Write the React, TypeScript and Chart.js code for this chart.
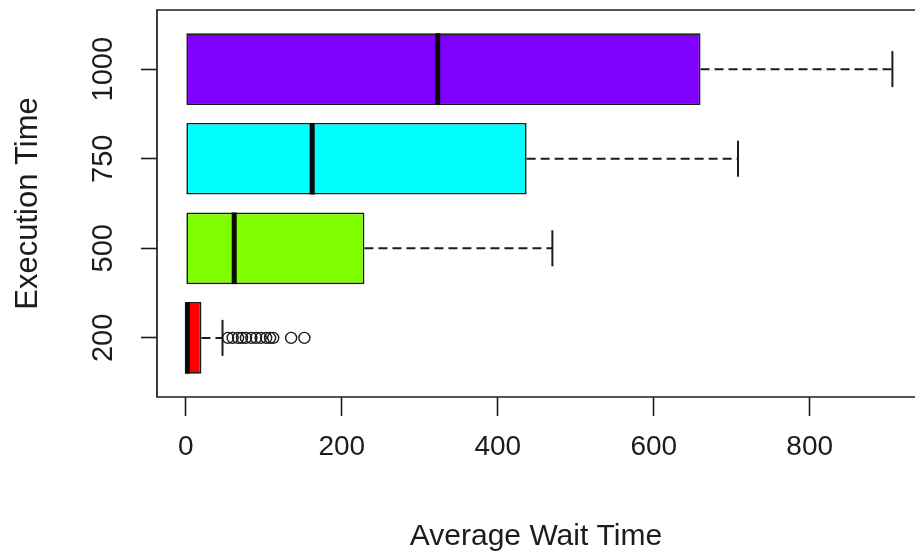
import { useEffect, useRef } from 'react';
import { Chart, registerables } from 'chart.js';

Chart.register(...registerables);

// ---- data ----
const categories = ['200', '500', '750', '1000'];
const positions = [1, 2, 3, 4];
const q1 = [0, 0, 0, 0];
const medians = [2, 62, 162, 323];
const q3 = [20, 229, 437, 660];
const whiskerHigh = [47, 470, 708, 906];
const boxColors = ['#FF0000', '#80FF00', '#00FFFF', '#8000FF'];
const outliers200 = [54, 60, 67, 72, 77, 84, 90, 96, 103, 108, 112, 135, 152];
const xTicks = [0, 200, 400, 600, 800];
const xMin = -37;
const xMax = 935;
const yMin = 0.34;
const yMax = 4.66;

const FONT = '"Liberation Sans", Arial, Helvetica, sans-serif';
const INK = '#1c1c1c';

const framePlugin = {
  id: 'rframe',
  afterDraw(chart: any) {
    const { ctx, chartArea } = chart;
    ctx.save();
    ctx.strokeStyle = INK;
    ctx.lineWidth = 1.7;
    ctx.beginPath();
    ctx.moveTo(chartArea.right + 3, chartArea.top);
    ctx.lineTo(chartArea.left, chartArea.top);
    ctx.lineTo(chartArea.left, chartArea.bottom);
    ctx.lineTo(chartArea.right + 3, chartArea.bottom);
    ctx.stroke();
    ctx.restore();
  },
};

export default function App() {
  const ref = useRef<HTMLCanvasElement | null>(null);

  useEffect(() => {
    if (!ref.current) return;

    const whiskerSets = positions.map((p, i) => ({
      type: 'scatter' as const,
      data: [
        { x: q3[i], y: p },
        { x: whiskerHigh[i], y: p },
      ],
      showLine: true,
      borderColor: INK,
      borderWidth: 2,
      borderDash: [9, 5],
      pointRadius: 0,
      order: 2,
    }));

    const chart = new Chart(ref.current, {
      type: 'bar',
      data: {
        datasets: [
          {
            type: 'bar',
            indexAxis: 'y',
            data: positions.map((p, i) => ({ y: p, x: [q1[i], q3[i]] })) as any,
            backgroundColor: boxColors,
            borderColor: INK,
            borderWidth: 1.7,
            borderSkipped: false,
            barPercentage: 0.8,
            categoryPercentage: 1,
            order: 3,
          } as any,
          ...whiskerSets,
          {
            type: 'scatter',
            data: positions.map((p, i) => ({ x: whiskerHigh[i], y: p })),
            pointStyle: 'line',
            pointRotation: 90,
            pointRadius: 18,
            pointBorderWidth: 2,
            pointBorderColor: INK,
            order: 1,
          } as any,
          {
            type: 'scatter',
            data: positions.map((p, i) => ({ x: medians[i], y: p })),
            pointStyle: 'line',
            pointRotation: 90,
            pointRadius: 35.8,
            pointBorderWidth: 5,
            pointBorderColor: '#0a0a0a',
            order: 1,
          } as any,
          {
            type: 'scatter',
            data: outliers200.map((v) => ({ x: v, y: positions[0] })),
            pointStyle: 'circle',
            pointRadius: 5.5,
            pointBorderWidth: 1.4,
            pointBorderColor: INK,
            pointBackgroundColor: 'rgba(0,0,0,0)',
            order: 0,
          } as any,
        ],
      },
      options: {
        responsive: false,
        animation: false,
        events: [],
        devicePixelRatio: 1,
        layout: { autoPadding: false, padding: { top: 10, left: 0, right: 0, bottom: 0 } },
        plugins: {
          legend: { display: false },
          tooltip: { enabled: false },
        },
        scales: {
          x: {
            type: 'linear',
            position: 'bottom',
            offset: false,
            min: xMin,
            max: xMax,
            afterBuildTicks: (s: any) => {
              s.ticks = xTicks.map((v) => ({ value: v }));
            },
            afterFit: (s: any) => {
              s.height = 159;
              s.paddingLeft = 0;
              s.paddingRight = 0;
              s.paddingTop = 0;
              s.paddingBottom = 0;
            },
            grid: {
              display: true,
              offset: false,
              drawOnChartArea: false,
              drawTicks: true,
              tickLength: 19,
              tickColor: INK,
              tickWidth: 1.6,
            },
            border: { display: false },
            ticks: {
              color: INK,
              padding: 14,
              maxRotation: 0,
              font: { family: FONT, size: 28 },
            },
            title: {
              display: true,
              text: 'Average Wait Time',
              color: INK,
              font: { family: FONT, size: 30 },
              padding: { top: 0, bottom: 1 },
            },
          },
          y: {
            type: 'linear',
            position: 'left',
            offset: false,
            min: yMin,
            max: yMax,
            afterBuildTicks: (s: any) => {
              s.ticks = positions.map((v) => ({ value: v }));
            },
            afterFit: (s: any) => {
              s.width = 157;
              s.paddingTop = 0;
              s.paddingBottom = 0;
              s.paddingLeft = 0;
              s.paddingRight = 0;
            },
            grid: {
              display: true,
              offset: false,
              drawOnChartArea: false,
              drawTicks: true,
              tickLength: 16,
              tickColor: INK,
              tickWidth: 1.6,
            },
            border: { display: false },
            ticks: {
              color: INK,
              padding: 5,
              minRotation: 90,
              maxRotation: 90,
              crossAlign: 'center',
              font: { family: FONT, size: 29 },
              callback: (_v: any, i: number) => categories[i],
            },
            title: {
              display: true,
              text: 'Execution Time',
              color: INK,
              font: { family: FONT, size: 31 },
              padding: { top: 10, bottom: 0 },
            },
          },
        },
      } as any,
      plugins: [framePlugin],
    });

    return () => chart.destroy();
  }, []);

  return (
    <div style={{ position: 'absolute', left: 0, top: 0, width: 915, height: 556, background: '#fff' }}>
      <canvas ref={ref} width={915} height={556} style={{ display: 'block' }} />
    </div>
  );
}
